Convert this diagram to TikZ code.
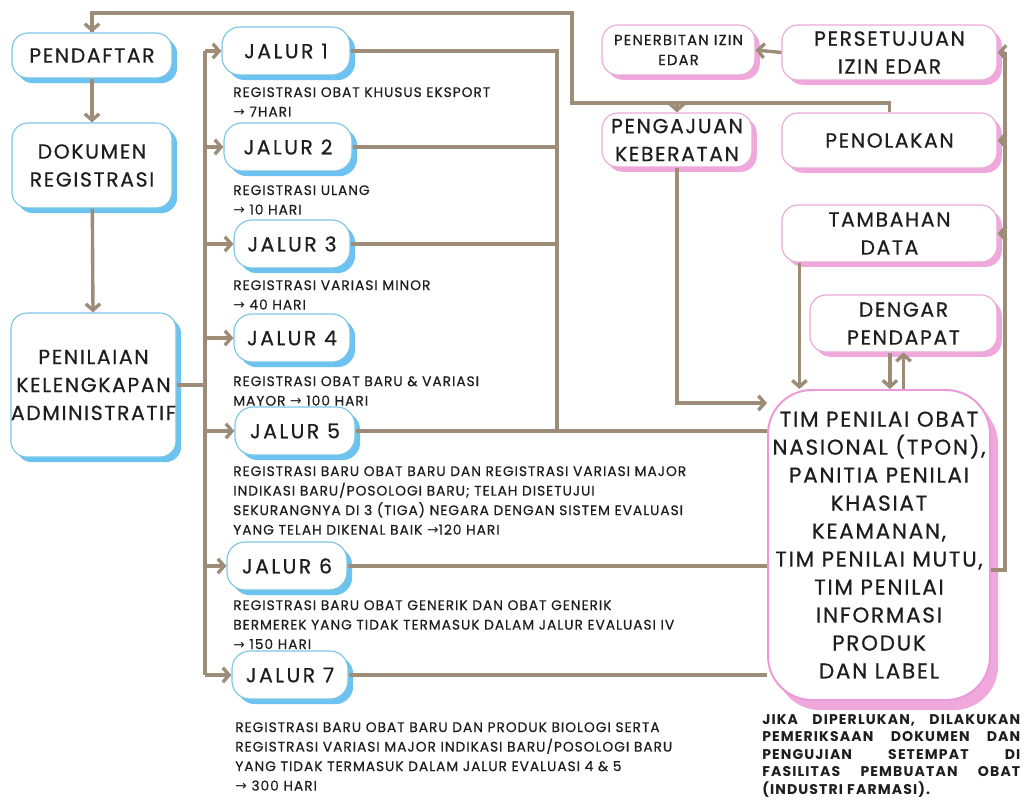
\documentclass[tikz,border=0pt]{standalone}
\usepackage{fontspec}
\setmainfont{Poppins}
\newfontfamily\arrowfont{DejaVu Sans}
\newfontfamily\titlefont[LetterSpace=8,FakeBold=0.6]{Poppins}
\newfontfamily\jalurfont[LetterSpace=12,FakeBold=0.6]{Poppins}
\newfontfamily\descfont[LetterSpace=7,FakeBold=0.5]{Poppins}
\newfontfamily\notefont[LetterSpace=8]{Poppins Bold}
\usetikzlibrary{arrows.meta,shadows}

\definecolor{linebrown}{RGB}{157,140,119}
\definecolor{boxblue}{RGB}{122,198,228}
\definecolor{shadeblue}{RGB}{108,194,240}
\definecolor{boxpink}{RGB}{232,170,214}
\definecolor{shadepink}{RGB}{240,168,220}
\definecolor{inkdark}{RGB}{30,30,30}

\newcommand{\ra}{{\arrowfont →}}

\tikzset{
  bluebox/.style={draw=boxblue, line width=0.8pt, fill=white, rounded corners=4mm,
    align=center, inner sep=0pt, text=inkdark,
    drop shadow={shadow xshift=1.3mm, shadow yshift=-1.3mm, fill=shadeblue, opacity=1}},
  pinkbox/.style={draw=boxpink, line width=0.8pt, fill=white, rounded corners=4mm,
    align=center, inner sep=0pt, text=inkdark,
    drop shadow={shadow xshift=1.2mm, shadow yshift=-1.2mm, fill=shadepink, opacity=1}},
  bigtitle/.style={font=\titlefont\fontsize{14.5}{19.9}\selectfont},
  jalurbox/.style={bluebox, rounded corners=4.5mm, minimum height=12mm,
    font=\jalurfont\fontsize{14.5}{19.9}\selectfont},
  desc/.style={anchor=north west, align=left, inner sep=0pt, text=inkdark,
    font=\descfont\fontsize{9.8}{13.9}\selectfont},
  link/.style={draw=linebrown, line width=2.4pt},
  arrow/.style={link, -{Straight Barb[length=1.6mm,width=3.6mm]}}
}

\begin{document}
\begin{tikzpicture}[x=0.25mm, y=-0.25mm]

\fill[white] (0,0) rectangle (1026,802);
\useasboundingbox (0,0) rectangle (1026,802);

% left column
\node[bluebox, bigtitle, minimum width=40mm, minimum height=11.25mm] (pendaftar) at (92,55.5) {PENDAFTAR};
\node[bluebox, bigtitle, minimum width=40mm, minimum height=21.25mm] (dokumen) at (92,165.5) {DOKUMEN\\REGISTRASI};
\node[bluebox, bigtitle, minimum width=40.75mm, minimum height=36mm] (penilaian) at (93.5,385) {PENILAIAN\\KELENGKAPAN\\ADMINISTRATIF};

% jalur
\node[jalurbox, minimum width=32mm] (jalur1) at (286,51) {JALUR 1};
\node[jalurbox, minimum width=32mm] (jalur2) at (288,147) {JALUR 2};
\node[jalurbox, minimum width=29mm] (jalur3) at (292,244) {JALUR 3};
\node[jalurbox, minimum width=29mm] (jalur4) at (292,338) {JALUR 4};
\node[jalurbox, minimum width=30mm] (jalur5) at (295,431) {JALUR 5};
\node[jalurbox, minimum width=30mm] (jalur6) at (287,566) {JALUR 6};
\node[jalurbox, minimum width=29mm] (jalur7) at (290,675) {JALUR 7};

\node[desc] (desc1) at (233,87) {REGISTRASI OBAT KHUSUS EKSPORT\\\ra{} 7HARI};
\node[desc] (desc2) at (233,185) {REGISTRASI ULANG\\\ra{} 10 HARI};
\node[desc] (desc3) at (233,280) {REGISTRASI VARIASI MINOR\\\ra{} 40 HARI};
\node[desc] (desc4) at (233,376) {REGISTRASI OBAT BARU \& VARIASI\\MAYOR \ra{} 100 HARI};
\node[desc] (desc5) at (233,466) {REGISTRASI BARU OBAT BARU DAN REGISTRASI VARIASI MAJOR\\
  INDIKASI BARU/POSOLOGI BARU; TELAH DISETUJUI\\
  SEKURANGNYA DI 3 (TIGA) NEGARA DENGAN SISTEM EVALUASI\\
  YANG TELAH DIKENAL BAIK \ra120 HARI};
\node[desc] (desc6) at (233,600) {REGISTRASI BARU OBAT GENERIK DAN OBAT GENERIK\\
  BERMEREK YANG TIDAK TERMASUK DALAM JALUR EVALUASI IV\\
  \ra{} 150 HARI};
\node[desc] (desc7) at (235,722) {REGISTRASI BARU OBAT BARU DAN PRODUK BIOLOGI SERTA\\
  REGISTRASI VARIASI MAJOR INDIKASI BARU/POSOLOGI BARU\\
  YANG TIDAK TERMASUK DALAM JALUR EVALUASI 4 \& 5\\
  \ra{} 300 HARI};

% right side
\node[pinkbox, minimum width=38.25mm, minimum height=12.5mm,
  font=\titlefont\fontsize{10.5}{14.2}\selectfont] (penerbitan) at (678.5,50) {PENERBITAN IZIN\\EDAR};
\node[pinkbox, bigtitle, minimum width=53.75mm, minimum height=13.75mm] (persetujuan) at (889.5,52.5) {PERSETUJUAN\\IZIN EDAR};
\node[pinkbox, bigtitle, minimum width=37.5mm, minimum height=13.5mm] (pengajuan) at (677,140) {PENGAJUAN\\KEBERATAN};
\node[pinkbox, bigtitle, minimum width=53.75mm, minimum height=13.75mm] (penolakan) at (889.5,140.5) {PENOLAKAN};
\node[pinkbox, bigtitle, minimum width=53.75mm, minimum height=14.25mm] (tambahan) at (889.5,233.5) {TAMBAHAN\\DATA};
\node[pinkbox, bigtitle, minimum width=46.75mm, minimum height=14.25mm] (dengar) at (903.5,323.5) {DENGAR\\PENDAPAT};
\node[pinkbox, draw=boxpink!90!magenta, line width=1.4pt, rounded corners=11mm,
  minimum width=55.5mm, minimum height=77.5mm,
  drop shadow={shadow xshift=2mm, shadow yshift=-2.5mm, fill=shadepink, opacity=1},
  font=\titlefont\fontsize{15.3}{19.9}\selectfont, text depth=0pt] (tpon) at (879,545)
  {TIM PENILAI OBAT\\NASIONAL (TPON),\\PANITIA PENILAI\\KHASIAT\\KEAMANAN,\\TIM PENILAI MUTU,\\TIM PENILAI\\INFORMASI\\PRODUK\\DAN LABEL};

\node[anchor=north west, align=left, inner sep=0pt, text=inkdark,
  font=\notefont\fontsize{10}{12.5}\selectfont] (catatan) at (762,714)
  {\makebox[64.5mm][s]{JIKA DIPERLUKAN, DILAKUKAN}\\
   \makebox[64.5mm][s]{PEMERIKSAAN DOKUMEN DAN}\\
   \makebox[64.5mm][s]{PENGUJIAN SETEMPAT DI}\\
   \makebox[64.5mm][s]{FASILITAS PEMBUATAN OBAT}\\
   (INDUSTRI FARMASI).};

% helper coordinates
\coordinate (distx) at (205,0);
\coordinate (colx) at (557,0);
\coordinate (rightx) at (1005,0);
\coordinate (rtop) at (572,103);
\coordinate (ltop) at (572,13);
\coordinate (tambahx) at ([xshift=4.5mm]tambahan.south west);
\coordinate (dengarx) at ([xshift=-3.4mm]dengar.south);
\coordinate (tponout) at ([yshift=-6.25mm]tpon.east);

% left column connectors
\draw[arrow] (pendaftar) -- (dokumen);
\draw[arrow] (dokumen) -- (penilaian);
\draw[link] (penilaian.east) -- (distx |- penilaian.east);
\draw[link] (distx |- jalur1.west) -- (distx |- jalur7.west);
\draw[arrow] (distx |- jalur1.west) -- (jalur1.west);
\draw[arrow] (distx |- jalur2.west) -- (jalur2.west);
\draw[arrow] (distx |- jalur3.west) -- (jalur3.west);
\draw[arrow] (distx |- jalur4.west) -- (jalur4.west);
\draw[arrow] (distx |- jalur5.west) -- (jalur5.west);
\draw[arrow] (distx |- jalur6.west) -- (jalur6.west);
\draw[arrow] (distx |- jalur7.west) -- (jalur7.west);

% jalur to tpon
\draw[link] (jalur1.east) -| (colx |- jalur5.east);
\draw[link] (jalur2.east) -- (colx |- jalur2.east);
\draw[link] (jalur3.east) -- (colx |- jalur3.east);
\draw[link] (jalur5.east) -- (tpon.west |- jalur5.east);
\draw[link] (jalur6.east) -- (tpon.west |- jalur6.east);
\draw[link] (jalur7.east) -- (tpon.west |- jalur7.east);

% right column connectors
\draw[arrow] (persetujuan.west) -- (penerbitan.east);
\draw[arrow] (pengajuan.south) |- ([yshift=-3.5mm]tpon.north west);
\draw[arrow] (tambahx) -- (tambahx |- tpon.north);
\draw[arrow] (dengarx) -- (dengarx |- tpon.north);
\draw[arrow] (dengar.south |- tpon.north) -- (dengar.south);
\draw[link] (tponout) -- (rightx |- tponout) -- (rightx |- persetujuan.east);
\draw[arrow] (rightx |- persetujuan.east) -- (persetujuan.east);
\draw[arrow] (rightx |- penolakan.east) -- (penolakan.east);
\draw[arrow] (rightx |- tambahan.east) -- (tambahan.east);
\draw[link] (penolakan.north) |- (rtop) -- (ltop) -| (pendaftar.north);
\draw[arrow] (pendaftar.north |- ltop) -- (pendaftar.north);
\draw[arrow] (pengajuan.north |- rtop) -- (pengajuan.north);

\end{tikzpicture}
\end{document}
